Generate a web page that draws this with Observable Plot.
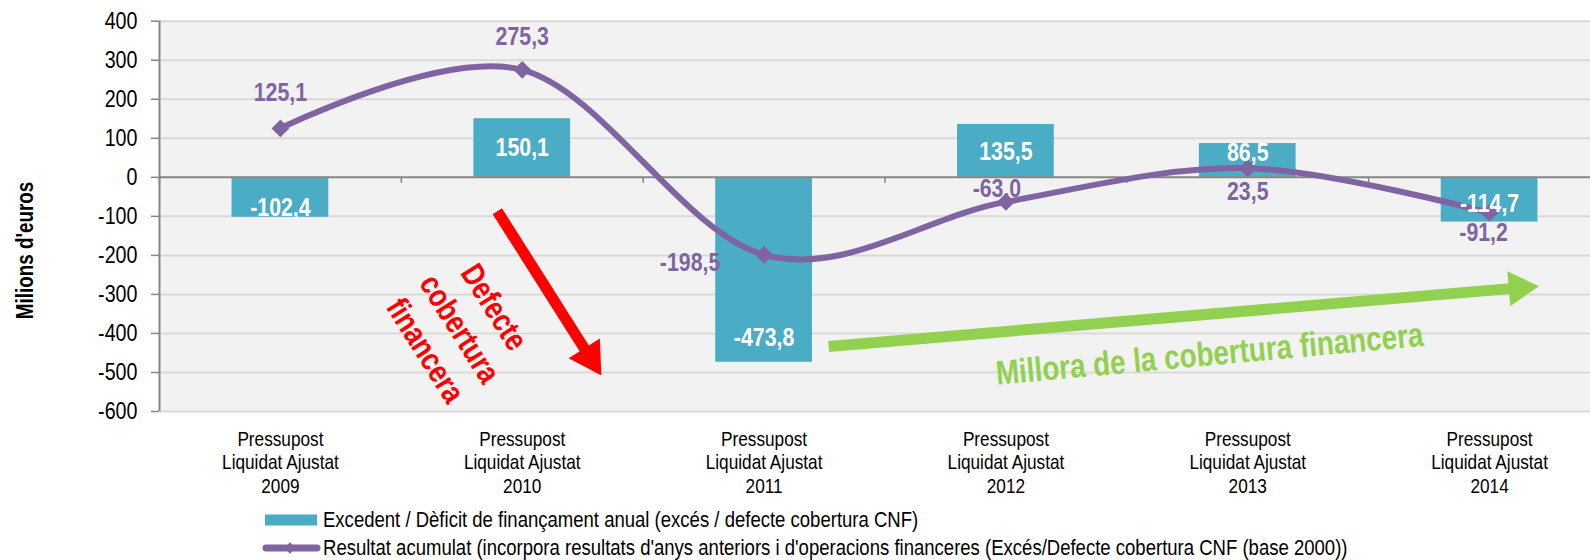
<!DOCTYPE html>
<html><head><meta charset="utf-8">
<script src="https://cdn.jsdelivr.net/npm/d3@7"></script>
<script src="https://cdn.jsdelivr.net/npm/@observablehq/plot@0.6"></script>
<style>
html,body{margin:0;padding:0;overflow:hidden;background:#fff;}
#wrap{position:relative;width:1590px;height:560px;overflow:hidden;font-family:"Liberation Sans",Arial,sans-serif;}
#wrap svg.chart{position:absolute;left:0;top:0;}
.leg{position:absolute;left:262px;height:28px;display:flex;align-items:center;font-size:22.6px;color:#000;white-space:nowrap;}
.leg svg{flex:none;}
.leg span{display:inline-block;transform:scaleX(0.82);transform-origin:0 50%;}
</style></head><body><div id="wrap"></div>
<script>
// ---------- data ----------
const categories = [
  "Pressupost\nLiquidat Ajustat\n2009",
  "Pressupost\nLiquidat Ajustat\n2010",
  "Pressupost\nLiquidat Ajustat\n2011",
  "Pressupost\nLiquidat Ajustat\n2012",
  "Pressupost\nLiquidat Ajustat\n2013",
  "Pressupost\nLiquidat Ajustat\n2014"
];
const balance = [-102.4, 150.1, -473.8, 135.5, 86.5, -114.7];
const cumulative = [125.1, 275.3, -198.5, -63.0, 23.5, -91.2];
const yTicks = [400, 300, 200, 100, 0, -100, -200, -300, -400, -500, -600];
const yTitle = "Milions d'euros";
const seriesNames = [
  "Excedent / Dèficit de finançament anual (excés / defecte cobertura CNF)",
  "Resultat acumulat (incorpora resultats d'anys anteriors i d'operacions financeres (Excés/Defecte cobertura CNF (base 2000))"
];
const redNote = "Defecte\ncobertura\nfinancera";
const greenNote = "Millora de la cobertura financera";
// annotation anchors in data units (x = category index, y = millions)
const redArrow = [{x1: 0.897, y1: -86.8, x2: 1.280, y2: -461.4}];
const greenArrow = [{x1: 2.267, y1: -433.5, x2: 5.121, y2: -283.3}];
const redNoteAt = [{x: 0.75, y: -384.8}];
const greenNoteAt = [{x: 3.842, y: -454}];

// ---------- styles ----------
const FONT = '"Liberation Sans",Arial,sans-serif';
const SX = 0.82; // horizontal condensing (Arial Narrow look)
const BAR = "#4BACC6", LINE = "#8064A2", RED = "#FF0000", GREEN = "#92D050";
const GRID = "#d9d9d9", AXIS = "#868686", BG = "#f2f2f2";
const barLabelDy = [10, 0, 68, 1, -8, 4];
const lineLabelOff = [[0, -36], [0, -33], [-74, 8], [-9, -13], [0, 24], [-6, 20]];

const idx = d3.range(categories.length);
const bars = idx.map(i => ({i, v: balance[i]}));
const pts = idx.map(i => ({i, v: cumulative[i]}));
const fmt = v => v.toFixed(1).replace(".", ",");
const xDomain = [-0.5, categories.length - 0.5];
const yDomain = [d3.min(yTicks), d3.max(yTicks)];
const tickLen = 8 / 241.8;

const marks = [
  Plot.rect([0], {x1: () => xDomain[0], x2: () => xDomain[1], y1: () => yDomain[0], y2: () => yDomain[1], fill: BG}),
  Plot.ruleY(yTicks.filter(t => t !== 0), {y: d => d, x1: () => xDomain[0], x2: () => xDomain[1], stroke: GRID, strokeWidth: 2}),
  Plot.rect(bars, {x1: d => d.i - 0.2, x2: d => d.i + 0.2, y1: () => 0, y2: "v", fill: BAR}),
  Plot.ruleY([0], {y: d => d, x1: () => xDomain[0], x2: () => xDomain[1], stroke: AXIS, strokeWidth: 2}),
  Plot.ruleX(d3.range(categories.length + 1).map(i => i - 0.5), {x: d => d, y1: () => 0, y2: () => -16, stroke: AXIS, strokeWidth: 1.5}),
  Plot.ruleX([xDomain[0]], {x: d => d, y1: () => yDomain[0], y2: () => yDomain[1], stroke: AXIS, strokeWidth: 2}),
  Plot.ruleY(yTicks, {y: d => d, x1: () => xDomain[0] - tickLen, x2: () => xDomain[0], stroke: AXIS, strokeWidth: 1.5}),
  Plot.text(yTicks, {y: d => d, text: d => String(d), frameAnchor: "left", textAnchor: "end", dx: -22, fontSize: 24, fill: "#000", fontFamily: FONT}),
  Plot.text([yTitle], {text: d => d, frameAnchor: "left", textAnchor: "middle", rotate: -90, dx: -134, dy: 34, fontSize: 23, fontWeight: "bold", fill: "#000", fontFamily: FONT}),
  Plot.text(idx, {x: d => d, text: d => categories[d], frameAnchor: "bottom", textAnchor: "middle", lineAnchor: "top", dy: 17, lineHeight: 1.14, fontSize: 21, fill: "#000", fontFamily: FONT}),
  Plot.line(pts, {x: "i", y: "v", curve: "cardinal", stroke: LINE, strokeWidth: 6}),
  Plot.dot(pts, {x: "i", y: "v", symbol: "diamond2", r: 8, fill: LINE, stroke: "none"}),
  ...idx.map(i => Plot.text([pts[i]], {x: "i", y: "v", text: d => fmt(d.v), dx: lineLabelOff[i][0], dy: lineLabelOff[i][1], fontSize: 26, fontWeight: "bold", fill: LINE, fontFamily: FONT})),
  ...idx.map(i => Plot.text([bars[i]], {x: "i", y: d => d.v / 2, text: d => fmt(d.v), dy: barLabelDy[i], fontSize: 26, fontWeight: "bold", fill: "#fff", fontFamily: FONT})),
  Plot.link(redArrow, {x1: "x1", y1: "y1", x2: "x2", y2: "y2", stroke: RED, strokeWidth: 11}),
  Plot.dot(redArrow, {x: "x2", y: "y2", symbol: "triangle", r: 13.7, fill: RED, stroke: "none", rotate: 147.7}),
  Plot.link(greenArrow, {x1: "x1", y1: "y1", x2: "x2", y2: "y2", stroke: GREEN, strokeWidth: 11}),
  Plot.dot(greenArrow, {x: "x2", y: "y2", symbol: "triangle", r: 13, fill: GREEN, stroke: "none", rotate: 85.2}),
  Plot.text(redNoteAt, {x: "x", y: "y", text: () => redNote, textAnchor: "middle", rotate: 57.7, fontSize: 32, fontWeight: "bold", lineHeight: 1.27, fill: RED, fontFamily: FONT}),
  Plot.text(greenNoteAt, {x: "x", y: "y", text: () => greenNote, textAnchor: "middle", rotate: -5.2, fontSize: 34, fontWeight: "bold", fill: GREEN, fontFamily: FONT})
];

const chart = Plot.plot({
  width: 1590, height: 560,
  marginLeft: 159, marginRight: 0, marginTop: 21, marginBottom: 149,
  x: {type: "linear", domain: xDomain, range: [159, 1610], axis: null},
  y: {type: "linear", domain: yDomain, range: [411, 20.7], axis: null},
  style: {fontFamily: FONT, background: "transparent"},
  marks
});
chart.classList.add("chart");

// condense every text horizontally around its own anchor
d3.select(chart).selectAll("text").each(function() {
  const t = d3.select(this);
  let tr = t.attr("transform") || "";
  const x = t.attr("x");
  if (x != null && isFinite(+x)) {
    tr = `${tr} translate(${+x},0)`;
    t.attr("x", null);
  }
  t.attr("transform", `${tr} scale(${SX},1)`);
});

const wrap = document.getElementById("wrap");
wrap.appendChild(chart);

// ---------- legend ----------
const legTops = [506, 534];
seriesNames.forEach((name, k) => {
  const row = document.createElement("div");
  row.className = "leg";
  row.style.top = legTops[k] + "px";
  const sw = k === 0
    ? `<svg width="61" height="14"><rect x="3" y="1.5" width="52" height="11" fill="${BAR}"/></svg>`
    : `<svg width="61" height="14"><line x1="4" y1="7" x2="55" y2="7" stroke="${LINE}" stroke-width="7" stroke-linecap="round"/><path d="M28,1 L33,7 L28,13 L23,7 Z" fill="${LINE}"/></svg>`;
  row.innerHTML = sw + `<span>${name}</span>`;
  wrap.appendChild(row);
});
</script></body></html>
